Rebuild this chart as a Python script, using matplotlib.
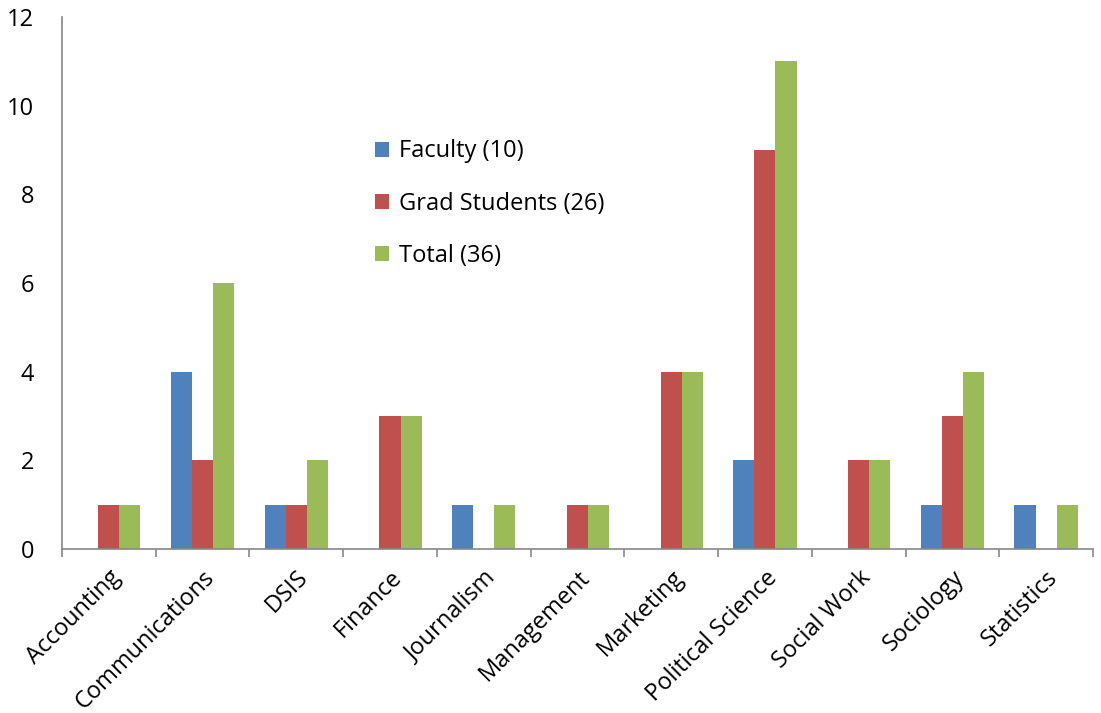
import numpy as np
import matplotlib.pyplot as plt
from matplotlib.ticker import FixedLocator

plt.rcParams['font.family'] = ['Open Sans', 'DejaVu Sans']

# ======================================================
# Data
# ======================================================
departments = ["Accounting", "Communications", "DSIS", "Finance", "Journalism",
               "Management", "Marketing", "Political Science", "Social Work",
               "Sociology", "Statistics"]
faculty = [0, 4, 1, 0, 1, 0, 0, 2, 0, 1, 1]
grad_students = [1, 2, 1, 3, 0, 1, 4, 9, 2, 3, 0]
total = [1, 6, 2, 3, 1, 1, 4, 11, 2, 4, 1]
series_labels = ["Faculty (10)", "Grad Students (26)", "Total (36)"]
colors = ["#4F81BD", "#C0504D", "#9BBB59"]

# ======================================================
# Plot
# ======================================================
fig = plt.figure(figsize=(11.01, 7.13), dpi=100)
ax = fig.add_axes([0.0563, 0.230, 0.9364, 0.746])

x = np.arange(len(departments))
w = 0.225
for i, (vals, lab, col) in enumerate(zip([faculty, grad_students, total], series_labels, colors)):
    ax.bar(x + (i - 1) * w, vals, width=w, color=col, label=lab, linewidth=0)

ax.set_xlim(-0.5, len(departments) - 0.5)
ax.set_ylim(0, 12)
ax.set_yticks(range(0, 13, 2))
ax.tick_params(axis="y", length=0, pad=20, labelsize=17)

ax.set_xticks(x)
ax.set_xticklabels(departments, rotation=45, ha="right", rotation_mode="anchor", fontsize=17)
ax.tick_params(axis="x", which="major", length=0, pad=12)
ax.xaxis.set_minor_locator(FixedLocator(np.arange(-0.5, len(departments) + 0.5, 1)))
ax.tick_params(axis="x", which="minor", length=6, width=1.2, color="#888888")

for s in ["top", "right"]:
    ax.spines[s].set_visible(False)
for s in ["left", "bottom"]:
    ax.spines[s].set_color("#888888")
    ax.spines[s].set_linewidth(1.2)

ax.legend(loc="upper left", bbox_to_anchor=(0.283, 0.81), frameon=False, fontsize=17,
          handlelength=0.6, handleheight=0.6, handletextpad=0.4, labelspacing=1.2)

plt.savefig("out.png", dpi=100)
plt.close()
